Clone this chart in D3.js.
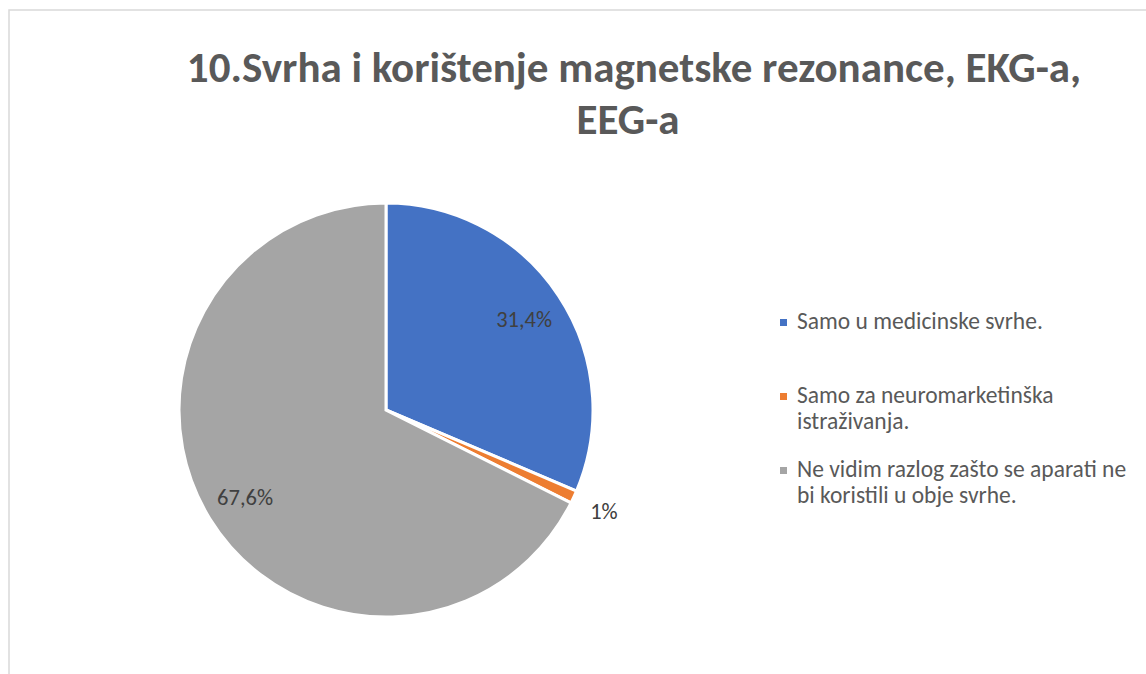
<!DOCTYPE html>
<html>
<head>
<meta charset="utf-8">
<script src="https://cdn.jsdelivr.net/npm/d3@7"></script>
<style>
  body { margin: 0; background: #fff; }
  svg { font-family: Carlito, Calibri, Lato, sans-serif; }
</style>
</head>
<body>
<svg id="chart"></svg>
<script>
// Data
const categories = [
  "Samo u medicinske svrhe.",
  "Samo za neuromarketinška istraživanja.",
  "Ne vidim razlog zašto se aparati ne bi koristili u obje svrhe."
];
const values = [31.4, 1, 67.6];
const valueLabels = ["31,4%", "1%", "67,6%"];
const legendLines = [
  ["Samo u medicinske svrhe."],
  ["Samo za neuromarketinška", "istraživanja."],
  ["Ne vidim razlog zašto se aparati ne", "bi koristili u obje svrhe."]
];
const colors = ["#4472c4", "#ed7d31", "#a5a5a5"];

// Constants
const width = 1146;
const height = 674;
const cx = 386, cy = 410, r = 207;

const svg = d3.select("#chart")
  .attr("width", width)
  .attr("height", height);

// Chart border (only top and left visible)
svg.append("rect")
  .attr("x", 9).attr("y", 10)
  .attr("width", 1200).attr("height", 800)
  .attr("fill", "none")
  .attr("stroke", "#d9d9d9")
  .attr("stroke-width", 1.5);

// Title
const title = svg.append("text")
  .attr("text-anchor", "middle")
  .attr("fill", "#595959")
  .attr("font-weight", "bold")
  .attr("font-size", 43);
title.append("tspan").attr("x", 634).attr("y", 82)
  .text("10.Svrha i korištenje magnetske rezonance, EKG-a,");
title.append("tspan").attr("x", 628).attr("y", 134)
  .text("EEG-a");

// Pie
const pie = d3.pie().sort(null).value(d => d)(values);
const arc = d3.arc().innerRadius(0).outerRadius(r);
const g = svg.append("g").attr("transform", `translate(${cx},${cy})`);

g.selectAll("path")
  .data(pie)
  .enter().append("path")
  .attr("d", arc)
  .attr("fill", (d, i) => colors[i])
  .attr("stroke", "#fff")
  .attr("stroke-width", 3);

// Data labels
const inArc = d3.arc().innerRadius(r * 0.8).outerRadius(r * 0.8);
const outArc = d3.arc().innerRadius(r * 1.16).outerRadius(r * 1.16);
g.selectAll("text.lbl")
  .data(pie)
  .enter().append("text")
  .attr("class", "lbl")
  .attr("transform", d => `translate(${(d.data < 5 ? outArc : inArc).centroid(d)})`)
  .attr("text-anchor", "middle")
  .attr("dy", "0.36em")
  .attr("fill", "#404040")
  .attr("font-size", 22.5)
  .text((d, i) => valueLabels[i]);

// Legend
const legendY = [329, 403, 477];
const legend = svg.append("g");
legendLines.forEach((lines, i) => {
  legend.append("rect")
    .attr("x", 780).attr("y", legendY[i] - 10)
    .attr("width", 7).attr("height", 7)
    .attr("fill", colors[i]);
  const t = legend.append("text")
    .attr("fill", "#595959")
    .attr("font-size", 23.5);
  lines.forEach((line, j) => {
    t.append("tspan").attr("x", 797).attr("y", legendY[i] + j * 26).text(line);
  });
});
</script>
</body>
</html>
